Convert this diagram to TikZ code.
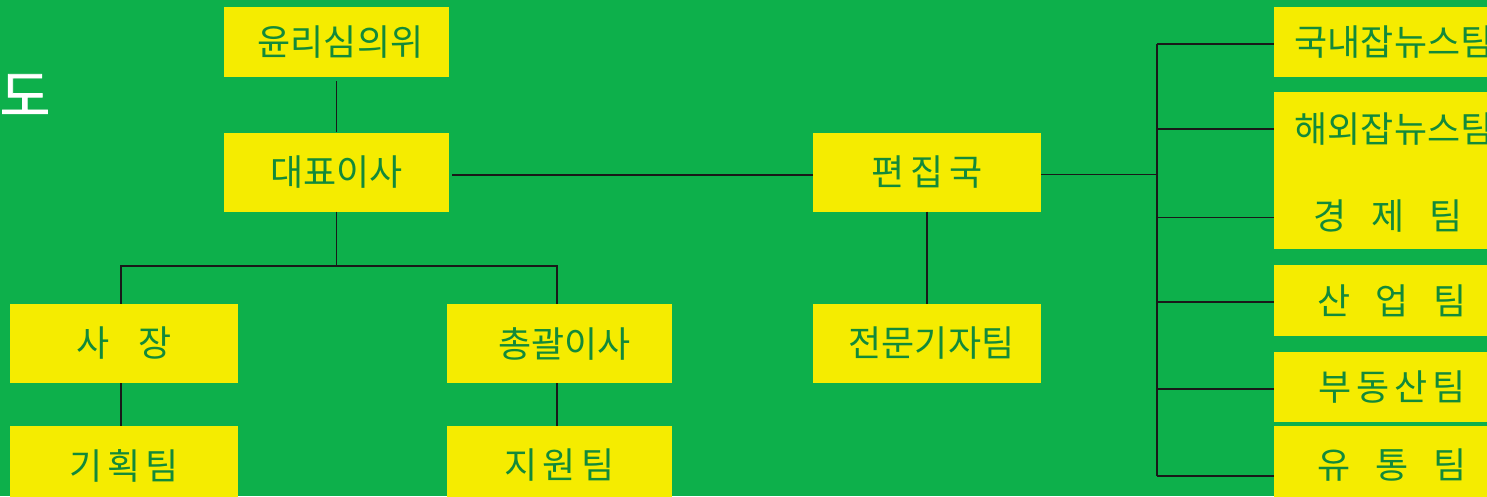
\documentclass[tikz,border=0pt]{standalone}
\usepackage{fontspec}
\newfontfamily\kr{Noto Sans CJK KR}
\newfontfamily\krb{Noto Sans CJK KR}[FakeBold=1.5]
\definecolor{bg}{RGB}{13,176,75}
\definecolor{yel}{RGB}{245,236,0}
\definecolor{txt}{RGB}{18,138,58}
\begin{document}
\begin{tikzpicture}[x=1pt,y=-1pt,
  box/.style={fill=yel, inner sep=0pt, text=txt, font=\kr\fontsize{36}{40}\selectfont},
  lbl/.style={inner sep=0pt, text=txt, font=\kr\fontsize{36}{40}\selectfont},
  conn/.style={draw=black!90, line width=1.3pt},
  spine/.style={draw=black!90, line width=2pt}]
\fill[bg] (0,0) rectangle (1487,496);
\useasboundingbox (0,0) rectangle (1487,496);
\clip (0,0) rectangle (1487,496);

% title fragment
\node[inner sep=0pt, text=white, font=\krb\fontsize{55}{60}\selectfont] (title) at (25,95) {도};

% left part
\node[box, minimum width=225pt, minimum height=70pt] (eth) at (336.5,42) {\hspace{8pt}윤리심의위};
\node[box, minimum width=225pt, minimum height=79pt] (ceo) at (336.5,172) {대표이사};
\node[box, minimum width=228pt, minimum height=79pt] (pres) at (124,343.5) {사\hspace{29pt}장};
\node[box, minimum width=228pt, minimum height=79pt] (plan) at (124,465.5) {기\hspace{4.5pt}획\hspace{4.5pt}팀};
\node[box, minimum width=225pt, minimum height=79pt] (gm) at (559.5,343.5) {\hspace{10pt}총괄이사};
\node[box, minimum width=225pt, minimum height=79pt] (sup) at (559.5,465.5) {지\hspace{5pt}원\hspace{5pt}팀};

% middle
\node[box, minimum width=228pt, minimum height=79pt] (ed) at (927,172) {편\hspace{6pt}집\hspace{6pt}국};
\node[box, minimum width=228pt, minimum height=79pt] (spec) at (927,343.5) {\hspace{9pt}전문기자팀};

% right column
\node[box, minimum width=236pt, minimum height=70pt] (dom) at (1392,42) {\hspace{4pt}국내잡뉴스팀};
\node[box, minimum width=236pt, minimum height=157pt] (forbox) at (1392,170.5) {};
\node[lbl] (for) at (1394,129) {해외잡뉴스팀};
\node[lbl] (econ) at (1388,216) {경\hspace{25pt}제\hspace{25pt}팀};
\node[box, minimum width=236pt, minimum height=71pt] (ind) at (1392,300.5) {산\hspace{25pt}업\hspace{25pt}팀\hspace{8pt}};
\node[box, minimum width=236pt, minimum height=70pt] (real) at (1392,387) {부\hspace{4.7pt}동\hspace{4.7pt}산\hspace{4.7pt}팀\hspace{8pt}};
\node[box, minimum width=236pt, minimum height=79pt] (dist) at (1392,465.5) {유\hspace{25pt}통\hspace{25pt}팀\hspace{8pt}};

% connectors left
\coordinate (j) at (336.5,266);
\draw[conn] ([yshift=-4pt]eth.south) -- (ceo.north);
\draw[conn] (ceo.south) -- (j);
\draw[conn] ([xshift=-3pt]pres.north) -- ([xshift=-3pt]pres.north |- j) -- ([xshift=-2.5pt]gm.north |- j) -- ([xshift=-2.5pt]gm.north);
\draw[conn] ([xshift=-3pt]pres.south) -- ([xshift=-3pt]plan.north);
\draw[conn] ([xshift=-2.5pt]gm.south) -- ([xshift=-2.5pt]sup.north);

% ceo to editorial
\draw[conn] ([xshift=3pt,yshift=-3pt]ceo.east) -- ([yshift=-3pt]ed.west);
\draw[conn] (ed.south) -- (spec.north);

% spine
\coordinate (s0) at (1157,174.5);
\coordinate (b1) at (1157,44);
\coordinate (b2) at (1157,129);
\coordinate (b3) at (1157,217.5);
\coordinate (b4) at (1157,302);
\coordinate (b5) at (1157,389);
\coordinate (b6) at (1157,476);
\draw[conn] ([yshift=-2.5pt]ed.east) -- (s0);
\draw[spine] (b1) -- (b6);
\draw[conn] (b1) -- (b1 -| dom.west);
\draw[conn] (b2) -- (b2 -| forbox.west);
\draw[conn] (b3) -- (b3 -| forbox.west);
\draw[conn] (b4) -- (b4 -| ind.west);
\draw[conn] (b5) -- (b5 -| real.west);
\draw[conn] (b6) -- (b6 -| dist.west);
\end{tikzpicture}
\end{document}
